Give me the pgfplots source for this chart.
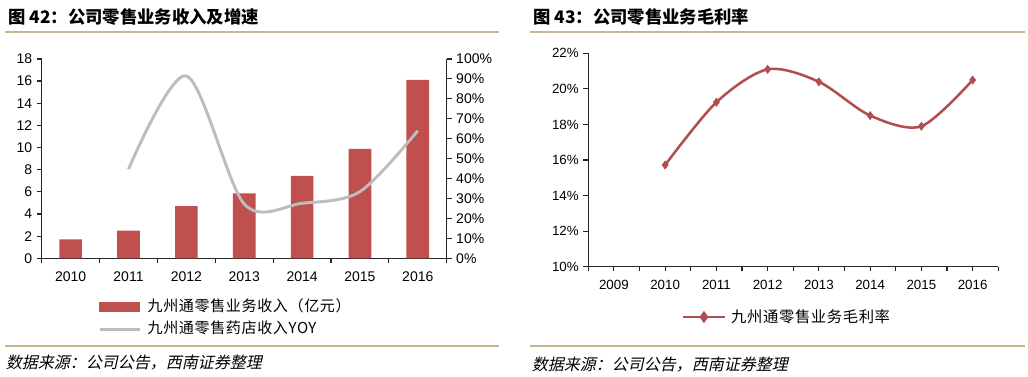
\documentclass[border=0pt]{standalone}
\usepackage{fontspec}
\usepackage{pgfplots}
\pgfplotsset{compat=1.18}
\setmainfont{Liberation Sans}
\newfontfamily\cjk{Noto Sans CJK SC}
\newfontfamily\cjkl[LetterSpace=4]{Noto Sans CJK SC}
\definecolor{barred}{HTML}{C0504D}
\definecolor{linegray}{HTML}{BDBDBD}
\definecolor{marginred}{HTML}{B24E4F}
\definecolor{rulebeige}{HTML}{C4B68E}
\begin{document}
\begin{tikzpicture}
\path[use as bounding box, fill=white] (0pt,0pt) rectangle (771pt,282pt);
% titles and rules
\node[anchor=west, inner sep=0pt] at (6pt,269.5pt) {\cjk\bfseries\fontsize{13pt}{15pt}\selectfont 图 42：公司零售业务收入及增速};
\node[anchor=west, inner sep=0pt] at (399.75pt,269.5pt) {\cjk\bfseries\fontsize{13pt}{15pt}\selectfont 图 43：公司零售业务毛利率};
\draw[rulebeige, line width=1.6pt] (3.75pt,258.2pt) -- (374.25pt,258.2pt);
\draw[rulebeige, line width=1.6pt] (397.5pt,258.2pt) -- (768.75pt,258.2pt);
\draw[rulebeige, line width=1.6pt] (3.75pt,22.5pt) -- (374.25pt,22.5pt);
\draw[rulebeige, line width=1.6pt] (397.5pt,22.8pt) -- (768.75pt,22.8pt);
\node[anchor=west, inner sep=0pt, xslant=0.22] at (5.25pt,10pt) {\cjk\fontsize{12pt}{14pt}\selectfont 数据来源：公司公告，西南证券整理};
\node[anchor=west, inner sep=0pt, xslant=0.22] at (399.75pt,8.5pt) {\cjk\fontsize{12pt}{14pt}\selectfont 数据来源：公司公告，西南证券整理};

% ---------- left chart: bars ----------
\begin{axis}[
  at={(31.3pt,88.3pt)}, anchor=south west,
  scale only axis, width=303.75pt, height=149.5pt,
  xmin=-0.5, xmax=6.5, ymin=0, ymax=18,
  axis y line*=left, axis x line*=bottom,
  axis line style={line width=0.9pt, black!85},
  tick style={line width=0.9pt, black!85},
  tick align=outside,
  xtick={0,...,6}, xticklabels={2010,2011,2012,2013,2014,2015,2016},
  xticklabel style={yshift=-3pt},
  major x tick style={draw=none},
  minor xtick={-0.5,0.5,...,6.5},
  minor tick length=3.6pt, major tick length=3.6pt,
  ytick={0,2,...,18},
  /pgf/number format/assume math mode=true,
  tick label style={font=\fontsize{10.5pt}{12pt}\selectfont},
  ybar, bar width=17pt, bar shift=0pt,
]
\addplot[fill=barred, draw=none] coordinates {(0,1.7) (1,2.5) (2,4.72) (3,5.87) (4,7.43) (5,9.87) (6,16.1)};
\end{axis}

% ---------- left chart: YOY line ----------
\begin{axis}[
  at={(31.3pt,88.3pt)}, anchor=south west,
  scale only axis, width=303.75pt, height=149.5pt,
  xmin=-0.5, xmax=6.5, ymin=0, ymax=100,
  axis y line*=right, axis x line=none,
  axis line style={line width=0.9pt, black!85},
  tick style={line width=0.9pt, black!85},
  tick align=outside, major tick length=3.6pt,
  ytick={0,10,...,100},
  yticklabel={\pgfmathprintnumber{\tick}\%},
  /pgf/number format/assume math mode=true,
  tick label style={font=\fontsize{10.5pt}{12pt}\selectfont},
  legend style={draw=none, fill=none, at={(0.139,-0.21)}, anchor=north west,
    inner sep=0pt, row sep=7pt, font=\cjkl\fontsize{11.3pt}{13pt}\selectfont,
    nodes={inner sep=0pt, text height=8pt, text depth=2pt, anchor=west},
    /tikz/every odd column/.append style={column sep=5pt}},
  legend cell align=left,
]
\addlegendimage{legend image code/.code={\fill[barred] (0pt,-3.4pt) rectangle (30pt,3.4pt);}}
\addlegendentry{九州通零售业务收入（亿元）}
\addplot[linegray, line width=2.2pt, smooth, legend image code/.code={\draw[linegray, line width=2pt] (0pt,0pt) -- (30pt,0pt);}]
  coordinates {(1,44.7) (2,91.5) (3,27.2) (4,27.6) (5,33.4) (6,64)};
\addlegendentry{九州通零售药店收入YOY}
\end{axis}

% ---------- right chart ----------
\begin{axis}[
  at={(441.2pt,82pt)}, anchor=south west,
  scale only axis, width=307.5pt, height=160pt,
  xmin=2008.5, xmax=2016.5, ymin=10, ymax=22,
  axis y line*=left, axis x line*=bottom,
  axis line style={line width=0.9pt, black!85},
  tick style={line width=0.9pt, black!85},
  tick align=outside, major tick length=3.6pt, minor tick length=3.6pt,
  xtick={2009,...,2016}, minor xtick={2008.5,2009.5,...,2016.5},
  xticklabel style={/pgf/number format/1000 sep={}, yshift=-3pt},
  ytick={10,12,...,22},
  yticklabel={\pgfmathprintnumber{\tick}\%},
  /pgf/number format/assume math mode=true,
  tick label style={font=\fontsize{10pt}{12pt}\selectfont},
  legend style={draw=none, fill=none, at={(0.228,-0.236)}, anchor=west,
    inner sep=0pt, font=\cjkl\fontsize{11.5pt}{13pt}\selectfont,
    nodes={inner sep=0pt, anchor=west},
    /tikz/every odd column/.append style={column sep=4pt}},
  legend cell align=left,
]
\addplot[marginred, line width=1.9pt, smooth, mark=diamond*, mark size=3pt,
  mark options={fill=marginred, line width=0.5pt},
  legend image code/.code={\draw[marginred, line width=1.9pt] (0pt,0pt) -- (31pt,0pt); \fill[marginred] (15.5pt,0pt) +(0,3pt) -- +(2.2pt,0) -- +(0,-3pt) -- +(-2.2pt,0) -- cycle;}]
  coordinates {(2010,15.72) (2011,19.25) (2012,21.1) (2013,20.4) (2014,18.5) (2015,17.9) (2016,20.5)};
\addlegendentry{九州通零售业务毛利率}
\end{axis}
\end{tikzpicture}
\end{document}
